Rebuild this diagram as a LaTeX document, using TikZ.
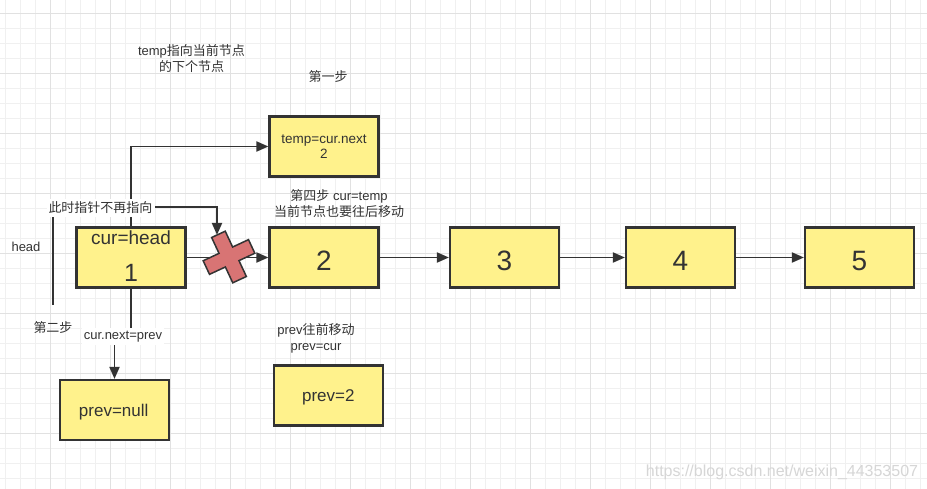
\documentclass[tikz,border=0pt]{standalone}
\usepackage{fontspec}
\setmainfont{Liberation Sans}
\newfontfamily\cjk{Noto Sans CJK SC}
\usetikzlibrary{arrows.meta}
\definecolor{boxyellow}{RGB}{255,242,140}
\definecolor{ink}{RGB}{51,51,51}
\definecolor{crossred}{RGB}{216,116,116}
\definecolor{gridminor}{RGB}{240,240,240}
\definecolor{gridmajor}{RGB}{225,225,225}
\definecolor{wmark}{RGB}{214,214,214}
\newcommand\zh[1]{{\cjk #1}}
\newcommand\fs[1]{\fontsize{#1}{#1}\selectfont}
\begin{document}
\begin{tikzpicture}[x=1pt,y=-1pt,
  box/.style={draw=ink, fill=boxyellow, line width=2.2pt, minimum width=109pt, minimum height=60pt, inner sep=0pt},
  conn/.style={draw=ink, line width=1.9pt, -{Triangle[length=12pt,width=10pt]}},
  txt/.style={text=ink, inner sep=0pt, font=\fs{13}},
  bigtxt/.style={text=ink, inner sep=0pt, font=\fs{28}},
  midtxt/.style={text=ink, inner sep=0pt, font=\fs{17}},
  whitelabel/.style={txt, fill=white, inner xsep=2pt, inner ysep=2.5pt},
  crossmark/.style={draw=ink, fill=crossred, line width=1.5pt, line join=miter}
]
\useasboundingbox (0,0) rectangle (927,489);
\fill[white] (0,0) rectangle (927,489);
% grid
\foreach \x in {5,20,...,925} \draw[gridminor, line width=0.9pt] (\x,0) -- (\x,489);
\foreach \y in {13,28,...,488} \draw[gridminor, line width=0.9pt] (0,\y) -- (927,\y);
\foreach \x in {50,110,...,890} \draw[gridmajor, line width=0.9pt] (\x,0) -- (\x,489);
\foreach \y in {13,73,...,433} \draw[gridmajor, line width=0.9pt] (0,\y) -- (927,\y);

% boxes
\node[box] (temp) at (324,146.5) {};
\node[box] (cur) at (131,257.5) {};
\node[box] (n2) at (324,257.5) {};
\node[box] (n3) at (504.5,257.5) {};
\node[box] (n4) at (680.5,257.5) {};
\node[box] (n5) at (859.5,257.5) {};
\node[box] (prevnull) at (114.5,410) {};
\node[box] (prev2) at (328.5,395.5) {};

% box texts
\node[txt, font=\fs{13.5}, anchor=base] (temptxt) at (324,143.3) {temp=cur.next};
\node[txt, font=\fs{13.5}, anchor=base] (temptwo) at (324,159) {2};
\node[txt, font=\fs{19}, anchor=base] (curtxt) at (131,245) {cur=head};
\node[txt, font=\fs{25}, anchor=base] (curone) at (131,281.5) {1};
\node[bigtxt, anchor=base] (two) at (324,270.4) {2};
\node[bigtxt, anchor=base] (three) at (504.5,270.4) {3};
\node[bigtxt, anchor=base] (four) at (680.5,270.4) {4};
\node[bigtxt, anchor=base] (five) at (859.5,270.4) {5};
\node[midtxt, anchor=base] (pnulltxt) at (113.7,416.7) {prev=null};
\node[midtxt, anchor=base] (p2txt) at (328.3,401) {prev=2};

% connectors
\coordinate (headstart) at (53,305);
\coordinate (headcorner) at (53,207);
\coordinate (headbend) at (217,207);
\coordinate (headtip) at (217,235);
\draw[conn] (headstart) -- (headcorner) -- (headbend) -- (headtip);
\draw[conn] (cur.north) -- (cur.north |- temp.west) -- (temp.west);
\draw[conn] (cur.east) -- (n2.west);
\draw[conn] (n2.east) -- (n3.west);
\draw[conn] (n3.east) -- (n4.west);
\draw[conn] (n4.east) -- (n5.west);
\coordinate (nbend) at (131,335);
\draw[conn] (cur.south) -- (nbend) -- (nbend -| prevnull.north) -- (prevnull.north);

% red cross
\begin{scope}[shift={(229,257)}, rotate=25]
\draw[crossmark] (25,7.5) -- (25,-7.5) -- (7.5,-7.5) -- (7.5,-25) -- (-7.5,-25) -- (-7.5,-7.5)
  -- (-25,-7.5) -- (-25,7.5) -- (-7.5,7.5) -- (-7.5,25) -- (7.5,25) -- (7.5,7.5) -- cycle;
\end{scope}

% labels
\node[whitelabel, font=\fs{13}\cjk] (nolonger) at (100.5,208) {此时指针不再指向};
\node[whitelabel, anchor=base, inner ysep=3pt] (nextprev) at (123,339.3) {cur.next=prev};
\node[txt, align=center, font=\fontsize{13}{16}\selectfont] (tempnote) at (191.5,59) {temp\zh{指向当前节点}\\\zh{的下个节点}};
\node[txt, font=\fs{13}\cjk] (step1) at (328,76.7) {第一步};
\node[txt, align=center, font=\fontsize{13}{16}\selectfont] (step4) at (339,204) {\zh{第四步} cur=temp\\\zh{当前节点也要往后移动}};
\node[txt, anchor=base] (headlbl) at (26,251.7) {head};
\node[txt, font=\fs{13}\cjk] (step2) at (53,328) {第二步};
\node[txt, align=center, font=\fontsize{13}{16}\selectfont] (prevnote) at (316,338) {prev\zh{往前移动}\\prev=cur};
\node[text=wmark, inner sep=0pt, font=\fs{16}, anchor=base] (wm) at (782,476) {https://blog.csdn.net/weixin\_44353507};
\end{tikzpicture}
\end{document}
